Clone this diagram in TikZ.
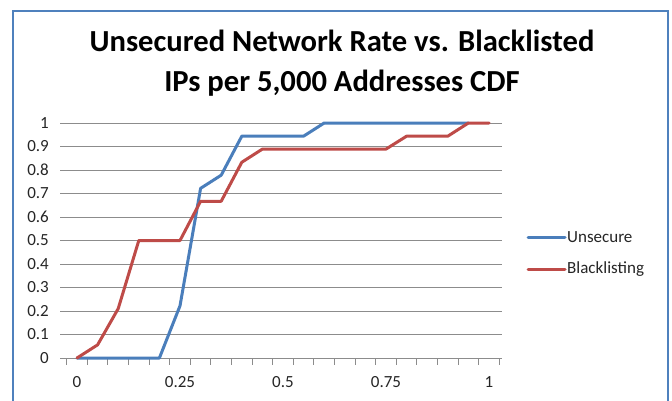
\documentclass[tikz,border=0pt]{standalone}
\usepackage{fontspec}
\setmainfont{Carlito}
\definecolor{frameblue}{HTML}{4F81BD}
\definecolor{unsecblue}{HTML}{4A7EBB}
\definecolor{blackred}{HTML}{BE4B48}
\begin{document}
\begin{tikzpicture}[x=1pt, y=-1pt,
    gridline/.style={draw=black!45, line width=1pt},
    series/.style={line width=3pt, line join=round, line cap=round},
    lbl/.style={font=\fontsize{17}{20}\selectfont, text=black!85, inner sep=0pt}]
    \useasboundingbox (0,0) rectangle (672,400);
    \fill[white] (0,0) rectangle (672,400);
    % chart frame
    \draw[line width=2pt, draw=frameblue] (13,403) -- (13,11) -- (668,11) -- (668,403);
    \node[font=\bfseries\fontsize{30.6}{40}\selectfont, align=center] (title) at (342,63)
        {Unsecured Network Rate vs. Blacklisted\\IPs per 5,000 Addresses CDF};
    % gridlines and y labels
    \foreach \k/\t in {0/0,1/0.1,2/0.2,3/0.3,4/0.4,5/0.5,6/0.6,7/0.7,8/0.8,9/0.9,10/1} {
        \draw[gridline] (60,358-23.5*\k) -- (502,358-23.5*\k);
        \node[lbl, anchor=east] (y\k) at (49,358-23.5*\k) {\t};
    }
    % x ticks and labels
    \foreach \k in {0,...,21}
        \draw[gridline] (66.7+20.6*\k,358) -- ++(0,7);
    \foreach \k/\t in {0/0,1/0.25,2/0.5,3/0.75,4/1}
        \node[lbl] (x\k) at (77+103*\k,382) {\t};
    % data
    \begin{scope}[shift={(77,358)}, x=412pt, y=235pt]
        \draw[series, unsecblue] (0,0) -- (0.05,0) -- (0.1,0) -- (0.15,0) -- (0.2,0)
            -- (0.25,0.222) -- (0.3,0.722) -- (0.35,0.778) -- (0.4,0.944) -- (0.45,0.944)
            -- (0.5,0.944) -- (0.55,0.944) -- (0.6,1) -- (0.95,1);
        \draw[series, blackred] (0,0) -- (0.05,0.056) -- (0.1,0.21) -- (0.15,0.5) -- (0.2,0.5)
            -- (0.25,0.5) -- (0.3,0.667) -- (0.35,0.667) -- (0.4,0.833) -- (0.45,0.889)
            -- (0.75,0.889) -- (0.8,0.944) -- (0.9,0.944) -- (0.95,1) -- (1,1);
    \end{scope}
    % legend
    \draw[series, unsecblue] (528,237) -- (565,237);
    \node[lbl, anchor=west] (legU) at (567,237) {Unsecure};
    \draw[series, blackred] (528,269) -- (565,269);
    \node[lbl, anchor=west] (legB) at (567,269) {Blacklisting};
\end{tikzpicture}
\end{document}
